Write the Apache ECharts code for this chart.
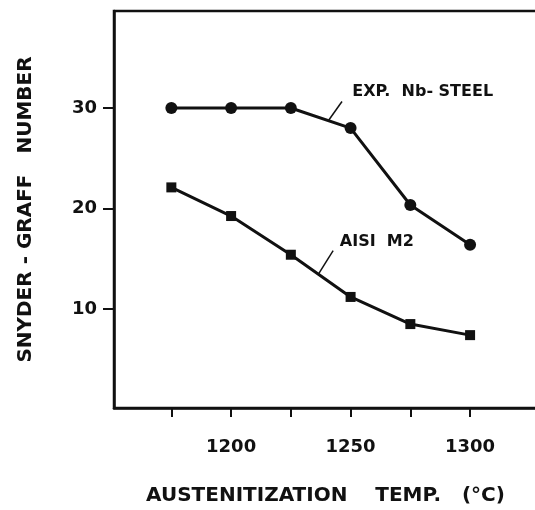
<!DOCTYPE html>
<html>
<head>
<meta charset="utf-8">
<script src="https://cdn.jsdelivr.net/npm/echarts@6/dist/echarts.min.js"></script>
<style>
  html, body { margin: 0; padding: 0; background: #fff; }
  #chart { width: 535px; height: 510px; }
</style>
</head>
<body>
<div id="chart"></div>
<script>
// austenitization temperatures (°C)
const temps = [1175, 1200, 1225, 1250, 1275, 1300];
// Snyder-Graff number
const nbSteel = [30, 30, 30, 28.0, 20.35, 16.4];
const aisiM2 = [22.1, 19.25, 15.4, 11.2, 8.5, 7.4];

const xTicks = [1175, 1200, 1225, 1250, 1275, 1300];
const xLabels = [1200, 1250, 1300];
const yTicks = [10, 20, 30];

const ink = '#111';
const font = 'DejaVu Sans';

const toPairs = (vals) => temps.map((t, i) => [t, vals[i]]);

// curve label with a short leader line, all in data coords
const callout = (text, from, to, at) => ({
  markLine: {
    silent: true,
    symbol: 'none',
    label: { show: false },
    lineStyle: { color: ink, width: 1.5, type: 'solid' },
    data: [[{ coord: from }, { coord: to }]]
  },
  markPoint: {
    silent: true,
    symbol: 'circle',
    symbolSize: 0,
    label: {
      show: true,
      position: 'right',
      distance: 0,
      formatter: text,
      color: ink,
      fontFamily: font,
      fontWeight: 'bold',
      fontSize: 16
    },
    data: [{ coord: at }]
  }
});

const chart = echarts.init(document.getElementById('chart'));

chart.setOption({
  backgroundColor: '#fff',
  animation: false,
  grid: {
    left: 114,
    right: -2,
    top: 11,
    bottom: 102,
    outerBoundsMode: 'none',
    containLabel: false,
    show: true,
    borderColor: ink,
    borderWidth: 2.5
  },
  xAxis: {
    type: 'value',
    min: 1151,
    max: 1328,
    name: 'AUSTENITIZATION    TEMP.   (°C)',
    nameLocation: 'middle',
    nameGap: 78,
    nameTextStyle: { color: ink, fontFamily: font, fontWeight: 'bold', fontSize: 20 },
    axisLine: { show: true, lineStyle: { color: ink, width: 2.5 } },
    axisTick: { show: true, length: 9, customValues: xTicks, lineStyle: { color: ink, width: 2 } },
    axisLabel: {
      customValues: xLabels,
      formatter: (v) => String(v),
      margin: 30,
      color: ink,
      fontFamily: font,
      fontWeight: 'bold',
      fontSize: 18
    },
    splitLine: { show: false }
  },
  yAxis: {
    type: 'value',
    min: 0.15,
    max: 39.65,
    name: 'SNYDER - GRAFF   NUMBER',
    nameLocation: 'middle',
    nameGap: 78,
    nameTextStyle: { color: ink, fontFamily: font, fontWeight: 'bold', fontSize: 20 },
    axisLine: { show: true, lineStyle: { color: ink, width: 2.5 } },
    axisTick: { show: true, length: 11, customValues: yTicks, lineStyle: { color: ink, width: 2 } },
    axisLabel: {
      customValues: yTicks,
      margin: 17,
      color: ink,
      fontFamily: font,
      fontWeight: 'bold',
      fontSize: 18
    },
    splitLine: { show: false }
  },
  series: [Object.assign({
    name: 'EXP. Nb-STEEL',
    type: 'line',
    data: toPairs(nbSteel),
    symbol: 'circle',
    symbolSize: 12,
    lineStyle: { color: ink, width: 3 },
    itemStyle: { color: ink }
  }, callout('EXP.  Nb- STEEL', [1240.9, 28.8], [1246.4, 30.65], [1250.7, 31.6])),
  Object.assign({
    name: 'AISI M2',
    type: 'line',
    data: toPairs(aisiM2),
    symbol: 'rect',
    symbolSize: 10,
    lineStyle: { color: ink, width: 3 },
    itemStyle: { color: ink }
  }, callout('AISI  M2', [1236.6, 13.5], [1242.7, 15.8], [1245.5, 16.7]))]
});
</script>
</body>
</html>
